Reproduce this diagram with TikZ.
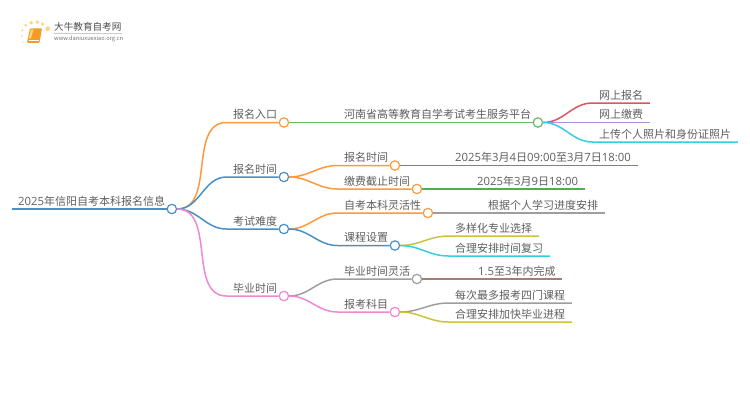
\documentclass[tikz,border=0pt]{standalone}
\usepackage{fontspec}
\setmainfont{Noto Sans CJK SC}
\newfontfamily\numfont[Scale=1.03]{Open Sans}
\newcommand{\nf}[1]{{\numfont #1}}
\usetikzlibrary{calc}
\definecolor{cOrange}{HTML}{FF9A3C}
\definecolor{cBlue}{HTML}{4A90C8}
\definecolor{cPink}{HTML}{EE88D6}
\definecolor{cGreen}{HTML}{66BB6A}
\definecolor{cDeep}{HTML}{4CAF50}
\definecolor{cRed}{HTML}{E0545C}
\definecolor{cPurple}{HTML}{B58AD6}
\definecolor{cCyan}{HTML}{33CFE0}
\definecolor{cGrey}{HTML}{9E9E9E}
\definecolor{cOlive}{HTML}{CCC23C}
\definecolor{cBrown}{HTML}{A87C74}
\definecolor{cText}{HTML}{5E5E5E}
\definecolor{cBook}{HTML}{F59A23}
\definecolor{cSpark}{HTML}{FFD583}
\tikzset{
 txt/.style={anchor=south west,inner xsep=6.5pt,inner ysep=0pt,text height=9pt,text depth=3.4pt,text=cText,font=\fontsize{11}{11}\selectfont},
 knob/.style={circle,draw=#1,fill=white,line width=1.2pt,minimum size=9.4pt,inner sep=0pt},
 wire/.style={draw=#1,line width=1.5pt},
 lk/.style={out=0,in=180}
}
\begin{document}
\begin{tikzpicture}[x=1pt,y=-1pt]
 \useasboundingbox (0,0) rectangle (750,410);
 % logo
 \fill[cSpark] (47.7,28.7) circle (2.4) (42.7,24) circle (1.8) (37.3,22) circle (1.9)
  (31.3,22.7) circle (1.9) (25.7,25.3) circle (1.6) (22.3,30.3) circle (1.2) (21.7,36) circle (1) (22.7,42) circle (.8);
 \fill[cBook,rounded corners=1pt] (30,28.3)--(42,28.3)--(39.5,42.8)--(27,42.8)--cycle;
 \fill[cSpark] (31,29.3)--(33.5,29.3)--(31,38.5)--(28.8,38.5)--cycle;
 \draw[white,line width=.5pt] (28.6,40.6)--(38.6,40.6);
 \node[inner sep=0pt,anchor=west,text=black!70,font=\fontsize{9.6}{10}\selectfont] (logoname) at (54,27) {大牛教育自考网};
 \draw[black!20,line width=.5pt] (54,33)--(122,33);
 \node[inner sep=0pt,anchor=west,text=black!55,font=\fontsize{5.7}{6}\selectfont] (logourl) at (54,38.5) {www.daniuxuexiao.org.cn};
 % text
 \node[txt] (root) at (11.5,209) {\nf{2025}年信阳自考本科报名信息};
 \node[txt] (rukou) at (226.5,122.5) {报名入口};
 \node[txt] (shijian) at (226.5,177) {报名时间};
 \node[txt] (nandu) at (226.5,229) {考试难度};
 \node[txt] (biye) at (226.5,296) {毕业时间};
 \node[txt] (pingtai) at (337.5,122.5) {河南省高等教育自学考试考生服务平台};
 \node[txt] (bmsj) at (337.5,165.5) {报名时间};
 \node[txt] (jiezhi) at (337.5,189) {缴费截止时间};
 \node[txt] (linghuo) at (337.5,213) {自考本科灵活性};
 \node[txt] (kecheng) at (337.5,245.5) {课程设置};
 \node[txt] (bylh) at (337.5,279) {毕业时间灵活};
 \node[txt] (kemu) at (337.5,312) {报考科目};
 \node[txt] (wsbm) at (592.5,103) {网上报名};
 \node[txt] (wsjf) at (592.5,122.5) {网上缴费};
 \node[txt] (zhaopian) at (592.5,142) {上传个人照片和身份证照片};
 \node[txt] (riqi) at (448.5,165.5) {\nf{2025}年\nf{3}月\nf{4}日\nf{09:00}至\nf{3}月\nf{7}日\nf{18:00}};
 \node[txt] (jzrq) at (470.5,189) {\nf{2025}年\nf{3}月\nf{9}日\nf{18:00}};
 \node[txt] (jindu) at (481.5,213) {根据个人学习进度安排};
 \node[txt] (duoyang) at (448.5,236) {多样化专业选择};
 \node[txt] (fuxi) at (448.5,256) {合理安排时间复习};
 \node[txt] (nianxian) at (471.5,279) {\nf{1.5}至\nf{3}年内完成};
 \node[txt] (simen) at (448.5,303) {每次最多报考四门课程};
 \node[txt] (jiakuai) at (448.5,322) {合理安排加快毕业进程};
 % knobs
 \node[knob=cBlue] (kroot) at (root.south east) {};
 \node[knob=cOrange] (krukou) at (rukou.south east) {};
 \node[knob=cBlue] (kshijian) at (shijian.south east) {};
 \node[knob=cBlue] (knandu) at (nandu.south east) {};
 \node[knob=cPink] (kbiye) at (biye.south east) {};
 \node[knob=cGreen] (kpingtai) at (pingtai.south east) {};
 \node[knob=cOrange] (kbmsj) at (bmsj.south east) {};
 \node[knob=cOrange] (kjiezhi) at (jiezhi.south east) {};
 \node[knob=cOrange] (klinghuo) at (linghuo.south east) {};
 \node[knob=cBlue] (kkecheng) at (kecheng.south east) {};
 \node[knob=cGrey] (kbylh) at (bylh.south east) {};
 \node[knob=cPink] (kkemu) at (kemu.south east) {};
 % connectors
 \draw[wire=cBlue] (root.south west)--(kroot.west);
 \draw[wire=cOrange] (kroot.east) to[lk] (rukou.south west)--(krukou.west);
 \draw[wire=cBlue] (kroot.east) to[lk] (shijian.south west)--(kshijian.west);
 \draw[wire=cBlue] (kroot.east) to[lk] (nandu.south west)--(knandu.west);
 \draw[wire=cPink] (kroot.east) to[lk] (biye.south west)--(kbiye.west);
 \draw[wire=cGreen] (krukou.east)--(kpingtai.west);
 \draw[wire=cOrange] (kshijian.east) to[lk] (bmsj.south west)--(kbmsj.west);
 \draw[wire=cOrange] (kshijian.east) to[lk] (jiezhi.south west)--(kjiezhi.west);
 \draw[wire=cOrange] (knandu.east) to[lk] (linghuo.south west)--(klinghuo.west);
 \draw[wire=cBlue] (knandu.east) to[lk] (kecheng.south west)--(kkecheng.west);
 \draw[wire=cGrey] (kbiye.east) to[lk] (bylh.south west)--(kbylh.west);
 \draw[wire=cPink] (kbiye.east) to[lk] (kemu.south west)--(kkemu.west);
 \draw[wire=cRed] (kpingtai.east) to[lk] (wsbm.south west)--(wsbm.south east);
 \draw[wire=cPurple] (kpingtai.east)--(wsjf.south east);
 \draw[wire=cCyan] (kpingtai.east) to[lk] (zhaopian.south west)--(zhaopian.south east);
 \draw[wire=cBlue] (kbmsj.east)--(riqi.south east);
 \draw[wire=cDeep] (kjiezhi.east)--(jzrq.south east);
 \draw[wire=cGrey] (klinghuo.east)--(jindu.south east);
 \draw[wire=cOlive] (kkecheng.east) to[lk] (duoyang.south west)--(duoyang.south east);
 \draw[wire=cCyan] (kkecheng.east) to[lk] (fuxi.south west)--(fuxi.south east);
 \draw[wire=cBrown] (kbylh.east)--(nianxian.south east);
 \draw[wire=cGrey] (kkemu.east) to[lk] (simen.south west)--(simen.south east);
 \draw[wire=cOlive] (kkemu.east) to[lk] (jiakuai.south west)--(jiakuai.south east);
\end{tikzpicture}
\end{document}
